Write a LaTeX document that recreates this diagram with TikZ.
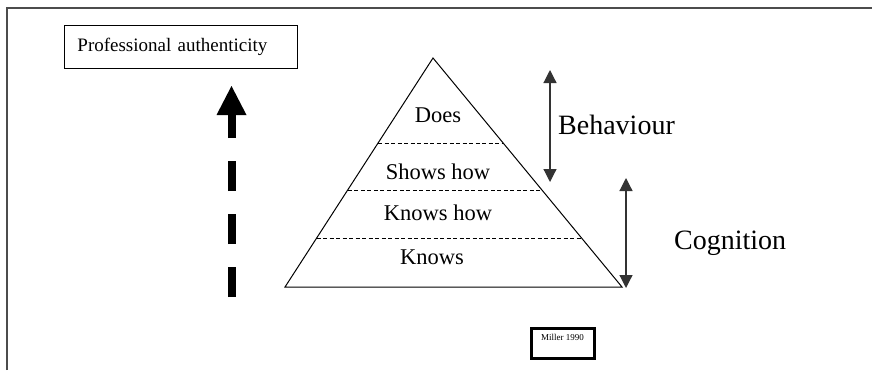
\documentclass[tikz,border=0pt]{standalone}
\usepackage{fontspec}
\setmainfont{Liberation Serif}
\usetikzlibrary{positioning,calc,arrows.meta}
\begin{document}
\begin{tikzpicture}[%
	x=1pt, y=-1pt,
	frame/.style = {draw=black!70, line width=1.5pt},
	level/.style = {font=\fontsize{22.5}{26}\selectfont, inner sep=1pt},
	split/.style = {dashed, dash pattern=on 4pt off 2.5pt, line width=0.8pt},
	span/.style = {draw=black!80, line width=1.2pt, {Triangle[width=13pt,length=13pt]}-{Triangle[width=13pt,length=13pt]}},
	side/.style = {font=\fontsize{28}{32}\selectfont, anchor=west, inner sep=0pt},
	bigup/.style = {line width=8pt, dash pattern=on 30pt off 23pt,
	  -{Triangle[width=30pt,length=29pt,line width=0pt]}}
	]
  \useasboundingbox (0,0) rectangle (872,370);
  \draw [frame] (7,370) -- (7,8) -- (872,8);
  \node [draw, line width=0.9pt, anchor=north west, minimum width=233pt, minimum height=43pt,
  	text width=207pt, inner xsep=13pt, align=left, font=\fontsize{19}{23}\selectfont] (auth) at (64,25) {Professional authenticity};
  \coordinate (upfoot) at (231.5,297);
  \coordinate (uptip) at (231.5,86);
  \draw [bigup] (upfoot) -- (uptip);
  \coordinate (apex) at (433,58);
  \coordinate (bl) at (285,287);
  \coordinate (br) at (622,287);
  \draw [line width=1pt] (apex) -- (br) -- (bl) -- cycle;
  \foreach \t [count=\i] in {0.371,0.576,0.786}
  	\draw [split] ($(apex)!\t!(bl)$) -- ($(apex)!\t!(br)$);
  \node [level] (does) at (438,115) {Does};
  \node [level] (shows) at (438,172) {Shows how};
  \node [level] (knowshow) at (438,213) {Knows how};
  \node [level] (knows) at (432,257) {Knows};
  \coordinate (bt) at (550,70);
  \coordinate (bb) at (550,182);
  \draw [span] (bt) -- (bb);
  \node [side] (beh) at (558,125) {Behaviour};
  \coordinate (ct) at (626,178);
  \coordinate (cb) at (626,288);
  \draw [span] (ct) -- (cb);
  \node [side] (cog) at (674,243) {Cognition};
  \node [draw, line width=3pt, minimum width=63pt, minimum height=30pt] (miller) at (562.5,343) {};
  \node [below=7.5pt of miller.north, font=\fontsize{9}{11}\selectfont, inner sep=0pt] (millertext) {Miller 1990};
\end{tikzpicture}
\end{document}
